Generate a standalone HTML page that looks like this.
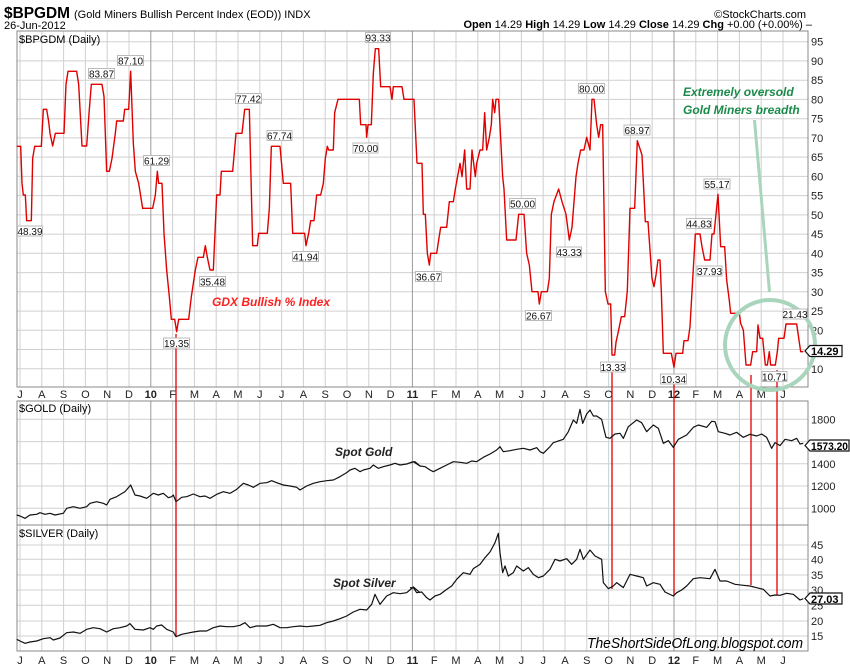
<!DOCTYPE html>
<html><head><meta charset="utf-8"><style>
html,body{margin:0;padding:0;background:#fff;}
svg{display:block;font-family:"Liberation Sans",sans-serif;}
</style></head><body>
<svg width="850" height="668" viewBox="0 0 850 668" xmlns="http://www.w3.org/2000/svg">
<rect width="850" height="668" fill="#fff"/>
<text x="4" y="18" font-size="16" font-weight="bold" textLength="66" lengthAdjust="spacingAndGlyphs">$BPGDM</text>
<text x="74" y="18" font-size="11">(Gold Miners Bullish Percent Index (EOD))  INDX</text>
<text x="4" y="29" font-size="11">26-Jun-2012</text>
<text x="806" y="18" font-size="11" text-anchor="end">©StockCharts.com</text>
<text x="812" y="28" font-size="11" text-anchor="end"><tspan font-weight="bold">Open</tspan> 14.29 <tspan font-weight="bold">High</tspan> 14.29 <tspan font-weight="bold">Low</tspan> 14.29 <tspan font-weight="bold">Close</tspan> 14.29 <tspan font-weight="bold">Chg</tspan> +0.00 (+0.00%) –</text>

<g stroke="#d0d0d0" stroke-width="1" fill="none">
<path d="M20 31V387M41.8 31V387M63.6 31V387M85.4 31V387M107.2 31V387M129 31V387M172.6 31V387M194.4 31V387M216.2 31V387M238 31V387M259.8 31V387M281.6 31V387M303.4 31V387M325.2 31V387M347 31V387M368.8 31V387M390.6 31V387M434.2 31V387M456 31V387M477.8 31V387M499.6 31V387M521.4 31V387M543.2 31V387M565 31V387M586.8 31V387M608.6 31V387M630.4 31V387M652.2 31V387M695.8 31V387M717.6 31V387M739.4 31V387M761.2 31V387M783 31V387"/>
<path d="M20 401V651M41.8 401V651M63.6 401V651M85.4 401V651M107.2 401V651M129 401V651M172.6 401V651M194.4 401V651M216.2 401V651M238 401V651M259.8 401V651M281.6 401V651M303.4 401V651M325.2 401V651M347 401V651M368.8 401V651M390.6 401V651M434.2 401V651M456 401V651M477.8 401V651M499.6 401V651M521.4 401V651M543.2 401V651M565 401V651M586.8 401V651M608.6 401V651M630.4 401V651M652.2 401V651M695.8 401V651M717.6 401V651M739.4 401V651M761.2 401V651M783 401V651"/>
<path d="M17 41.7H808M17 60.9H808M17 80.2H808M17 99.4H808M17 118.7H808M17 137.9H808M17 157.1H808M17 176.4H808M17 195.6H808M17 214.9H808M17 234.1H808M17 253.3H808M17 272.6H808M17 291.8H808M17 311.1H808M17 330.3H808M17 349.5H808M17 368.8H808"/>
<path d="M17 419.3H808M17 441.6H808M17 463.8H808M17 486H808M17 508.3H808"/>
<path d="M17 545H808M17 559.3H808M17 575H808M17 590H808M17 605.3H808M17 621H808M17 636H808"/>
</g>
<g stroke="#9a9a9a" stroke-width="1">
<path d="M150.8 31V387M412.4 31V387M674 31V387M150.8 401V651M412.4 401V651M674 401V651"/>
</g>
<g stroke="#888" fill="none" stroke-width="1">
<rect x="17" y="31" width="791" height="356"/>
<rect x="17" y="401" width="791" height="124"/>
<rect x="17" y="525" width="791" height="126"/>
</g>

<text x="19" y="43" font-size="11">$BPGDM (Daily)</text>
<text x="19" y="412" font-size="11">$GOLD (Daily)</text>
<text x="19" y="537" font-size="11">$SILVER (Daily)</text>

<g font-size="11" text-anchor="middle" fill="#222">
<text x="20" y="398">J</text><text x="41.8" y="398">A</text><text x="63.6" y="398">S</text><text x="85.4" y="398">O</text><text x="107.2" y="398">N</text><text x="129" y="398">D</text><text x="150.8" y="398" font-weight="bold">10</text><text x="172.6" y="398">F</text><text x="194.4" y="398">M</text><text x="216.2" y="398">A</text><text x="238" y="398">M</text><text x="259.8" y="398">J</text><text x="281.6" y="398">J</text><text x="303.4" y="398">A</text><text x="325.2" y="398">S</text><text x="347" y="398">O</text><text x="368.8" y="398">N</text><text x="390.6" y="398">D</text><text x="412.4" y="398" font-weight="bold">11</text><text x="434.2" y="398">F</text><text x="456" y="398">M</text><text x="477.8" y="398">A</text><text x="499.6" y="398">M</text><text x="521.4" y="398">J</text><text x="543.2" y="398">J</text><text x="565" y="398">A</text><text x="586.8" y="398">S</text><text x="608.6" y="398">O</text><text x="630.4" y="398">N</text><text x="652.2" y="398">D</text><text x="674" y="398" font-weight="bold">12</text><text x="695.8" y="398">F</text><text x="717.6" y="398">M</text><text x="739.4" y="398">A</text><text x="761.2" y="398">M</text><text x="783" y="398">J</text>
<text x="20" y="664">J</text><text x="41.8" y="664">A</text><text x="63.6" y="664">S</text><text x="85.4" y="664">O</text><text x="107.2" y="664">N</text><text x="129" y="664">D</text><text x="150.8" y="664" font-weight="bold">10</text><text x="172.6" y="664">F</text><text x="194.4" y="664">M</text><text x="216.2" y="664">A</text><text x="238" y="664">M</text><text x="259.8" y="664">J</text><text x="281.6" y="664">J</text><text x="303.4" y="664">A</text><text x="325.2" y="664">S</text><text x="347" y="664">O</text><text x="368.8" y="664">N</text><text x="390.6" y="664">D</text><text x="412.4" y="664" font-weight="bold">11</text><text x="434.2" y="664">F</text><text x="456" y="664">M</text><text x="477.8" y="664">A</text><text x="499.6" y="664">M</text><text x="521.4" y="664">J</text><text x="543.2" y="664">J</text><text x="565" y="664">A</text><text x="586.8" y="664">S</text><text x="608.6" y="664">O</text><text x="630.4" y="664">N</text><text x="652.2" y="664">D</text><text x="674" y="664" font-weight="bold">12</text><text x="695.8" y="664">F</text><text x="717.6" y="664">M</text><text x="739.4" y="664">A</text><text x="761.2" y="664">M</text><text x="783" y="664">J</text>
</g>

<g font-size="11" fill="#222">
<text x="811" y="45.7">95</text><text x="811" y="64.9">90</text><text x="811" y="84.2">85</text><text x="811" y="103.4">80</text><text x="811" y="122.7">75</text><text x="811" y="141.9">70</text><text x="811" y="161.1">65</text><text x="811" y="180.4">60</text><text x="811" y="199.6">55</text><text x="811" y="218.9">50</text><text x="811" y="238.1">45</text><text x="811" y="257.3">40</text><text x="811" y="276.6">35</text><text x="811" y="295.8">30</text><text x="811" y="315.1">25</text><text x="811" y="334.3">20</text><text x="811" y="372.8">10</text>
<text x="811" y="423.3">1800</text><text x="811" y="467.8">1400</text><text x="811" y="490">1200</text><text x="811" y="512.3">1000</text>
<text x="811" y="549">45</text><text x="811" y="563.3">40</text><text x="811" y="579">35</text><text x="811" y="594">30</text><text x="811" y="609.3">25</text><text x="811" y="625">20</text><text x="811" y="640">15</text>
</g>

<g stroke="#e00000" stroke-width="1.3">
<path d="M176 334V636M612 363V589M674 378V596M751 375V585M777 370V595"/>
</g>

<g transform="translate(0,30) scale(0.33333)" fill="none" stroke="#e00000" stroke-width="1.4" stroke-linejoin="round">
<polyline vector-effect="non-scaling-stroke" points="50,349 62,349 66,460 70,495 76,495 80,572 94,572 98,385 104,349 124,349 130,238 140,238 146,275 150,310 158,348 166,310 192,310 198,163 204,124 230,124 236,163 246,348 260,348 268,238 274,163 306,163 312,200 320,424 328,424 336,385 346,310 350,273 370,273 374,238 386,238 392,124 400,340 406,424 416,460 428,535 458,535 466,495 472,424 476,460 486,460 492,610 500,720 508,800 514,868 524,868 530,905 536,868 566,868 574,800 586,720 594,682 610,682 616,647 622,682 630,720 640,720 650,495 660,495 664,424 698,424 708,310 726,310 734,238 748,238 758,647 772,647 776,610 802,610 808,535 814,349 840,349 850,460 872,460 878,610 914,610 918,647 926,610 932,572 942,572 950,495 962,495 970,460 976,385 982,349 986,360 1000,360 1004,248 1014,208 1078,208 1082,284 1098,284 1100,322 1104,284 1114,284 1120,130 1126,56 1136,56 1142,170 1170,170 1176,208 1180,170 1206,170 1212,208 1242,208 1251,400"/>
</g>
<g transform="translate(410,30) scale(0.33333)" fill="none" stroke="#e00000" stroke-width="1.4" stroke-linejoin="round">
<polyline vector-effect="non-scaling-stroke" points="21,400 36,400 40,553 46,553 52,670 58,705 62,670 80,670 86,630 92,592 110,592 118,515 130,515 136,477 150,400 156,440 164,360 170,477 180,477 186,360 196,440 200,400 210,360 218,360 224,248 230,360 238,322 244,284 248,208 254,248 258,208 266,208 278,440 282,477 290,630 318,630 326,553 342,553 350,670 358,705 366,785 384,785 388,822 394,785 412,785 418,745 424,553 432,515 446,477 456,515 468,553 478,630 486,592 498,440 504,400 512,360 522,360 530,322 540,360 546,208 552,208 560,284 566,322 572,284 578,284 586,785 594,822 602,822 606,975 614,975 618,937 626,900 634,860 644,860 652,782 660,535 674,535 682,332 696,375 706,575 714,575 726,745 732,770 738,735 744,690 750,690 754,785 760,970 784,970 792,1012 798,970 818,970 822,932 834,932 840,890 848,750 856,612 870,612 876,650 884,690 900,690 906,612 912,612 924,493 932,650 944,650 950,750 958,812 962,850 988,850 992,880 1000,900 1008,1005 1022,1005 1028,965 1040,965 1044,885 1050,925 1058,925 1066,1005 1072,1005 1078,965 1082,1005 1096,1005 1102,965 1106,925 1122,925 1128,882 1160,882 1172,965 1180,965"/>
</g>

<g transform="translate(0,400) scale(0.33333)" fill="none" stroke="#111" stroke-linejoin="round">
<polyline vector-effect="non-scaling-stroke" stroke-width="1.2" points="50,345 60,348 75,355 90,345 110,343 120,338 135,343 150,340 165,345 190,340 200,325 220,320 240,325 260,320 270,310 290,305 310,310 320,315 330,298 350,290 375,275 392,255 405,285 420,288 440,295 460,280 475,285 490,280 505,293 515,290 520,285 528,305 545,292 560,290 580,282 600,290 615,288 630,295 650,283 670,275 690,280 710,268 730,250 745,255 760,262 780,250 800,248 815,242 830,248 850,255 870,258 890,262 900,270 920,258 940,250 960,245 980,242 1000,240 1020,230 1040,218 1050,210 1065,205 1080,215 1090,210 1110,205 1120,195 1135,205 1150,200 1170,195 1185,190 1200,195 1220,192 1240,185 1260,198"/>
</g>
<g transform="translate(410,400) scale(0.33333)" fill="none" stroke="#111" stroke-linejoin="round">
<polyline vector-effect="non-scaling-stroke" stroke-width="1.2" points="0,188 15,185 30,198 45,200 60,210 70,215 90,205 110,195 130,185 150,187 170,190 185,183 200,185 220,172 240,162 260,150 270,140 280,155 300,152 320,148 340,145 360,150 380,143 390,155 400,160 420,140 430,128 460,118 475,95 490,60 500,70 510,28 518,70 530,42 540,30 550,48 560,48 575,58 580,80 588,112 600,115 615,102 630,100 640,115 655,80 680,60 695,68 710,95 730,75 745,85 760,130 775,122 790,142 805,118 830,105 850,82 865,75 890,82 905,64 915,65 925,95 945,100 960,105 980,97 1000,112 1020,103 1040,108 1055,102 1070,112 1085,145 1095,128 1110,137 1125,118 1145,122 1160,115 1170,132 1180,130"/>
</g>

<g transform="translate(0,526) scale(0.33333)" fill="none" stroke="#111" stroke-linejoin="round">
<polyline vector-effect="non-scaling-stroke" stroke-width="1.2" points="50,340 60,345 75,352 90,348 110,345 130,338 150,335 160,342 180,336 200,320 220,318 240,322 260,310 280,305 300,308 320,318 340,308 360,305 380,300 390,293 405,310 430,312 450,305 460,310 470,300 485,297 500,310 520,318 528,332 545,325 560,322 580,318 600,315 620,315 640,305 660,300 680,302 700,302 720,298 735,290 750,305 770,300 800,300 820,295 840,305 860,305 880,302 900,300 920,302 940,300 960,298 980,290 1000,285 1020,278 1040,270 1060,258 1080,250 1100,252 1115,235 1125,205 1140,235 1160,210 1180,200 1200,203 1220,200 1240,183 1260,200"/>
</g>
<g transform="translate(410,526) scale(0.33333)" fill="none" stroke="#111" stroke-linejoin="round">
<polyline vector-effect="non-scaling-stroke" stroke-width="1.2" points="0,185 10,185 20,200 35,198 50,215 60,222 75,210 90,205 110,190 125,180 140,160 160,140 180,145 190,128 210,115 225,95 240,78 255,50 265,22 270,80 278,140 285,120 295,150 310,140 320,120 340,135 355,125 370,145 385,155 400,150 420,130 435,100 450,105 470,98 485,115 500,100 510,70 520,100 540,72 555,90 575,100 580,170 595,188 610,180 620,170 640,185 660,145 680,150 700,155 710,180 730,170 750,175 765,198 790,210 800,200 815,192 830,180 850,158 870,155 900,158 915,130 930,165 950,165 975,175 1000,178 1020,180 1040,185 1060,190 1080,210 1095,207 1110,208 1130,202 1150,205 1170,222 1180,218"/>
</g>

<circle cx="770" cy="345" r="45" fill="none" stroke="#a8d5bb" stroke-width="4"/>
<path d="M753 120L756 120L771 292L768 292Z" fill="#a8d5bb"/>

<g font-size="10" text-anchor="middle" fill="#111">
<g fill="#fff" stroke="#bbb" stroke-width="1">
<rect x="17.5" y="226" width="25" height="10"/>
<rect x="88.5" y="68.5" width="26" height="10"/>
<rect x="117.5" y="55.5" width="26" height="10"/>
<rect x="143.5" y="155.5" width="26" height="10"/>
<rect x="163.5" y="338" width="26" height="10"/>
<rect x="199.5" y="276.5" width="26" height="10"/>
<rect x="235.5" y="93.5" width="26" height="10"/>
<rect x="267" y="130.5" width="25" height="10"/>
<rect x="292.5" y="251.5" width="26" height="10"/>
<rect x="353" y="143" width="25" height="10"/>
<rect x="365.5" y="32.5" width="25" height="10"/>
<rect x="415.5" y="271.5" width="26" height="10"/>
<rect x="509.5" y="198.5" width="26" height="10"/>
<rect x="525.5" y="310.5" width="26" height="10"/>
<rect x="556.5" y="247" width="25" height="10"/>
<rect x="578.5" y="83.5" width="26" height="10"/>
<rect x="624" y="125" width="26" height="10"/>
<rect x="600.5" y="362" width="25" height="10"/>
<rect x="660.5" y="374" width="26" height="10"/>
<rect x="686.5" y="218.5" width="25" height="10"/>
<rect x="697" y="266" width="25" height="10"/>
<rect x="704" y="179" width="26" height="10"/>
<rect x="783" y="309" width="24" height="10"/>
<rect x="762" y="371.5" width="25" height="10"/>
</g>
<text x="30" y="235">48.39</text>
<text x="101.5" y="77.5">83.87</text>
<text x="130.5" y="64.5">87.10</text>
<text x="156.5" y="164.5">61.29</text>
<text x="176.5" y="347">19.35</text>
<text x="212.5" y="285.5">35.48</text>
<text x="248.5" y="102.5">77.42</text>
<text x="279.5" y="139.5">67.74</text>
<text x="305.5" y="260.5">41.94</text>
<text x="365.5" y="152">70.00</text>
<text x="378" y="41.5">93.33</text>
<text x="428.5" y="280.5">36.67</text>
<text x="522.5" y="207.5">50.00</text>
<text x="538.5" y="319.5">26.67</text>
<text x="569" y="256">43.33</text>
<text x="591.5" y="92.5">80.00</text>
<text x="637" y="134">68.97</text>
<text x="613" y="371">13.33</text>
<text x="673.5" y="383">10.34</text>
<text x="699" y="227.5">44.83</text>
<text x="709.5" y="275">37.93</text>
<text x="717" y="188">55.17</text>
<text x="795" y="318">21.43</text>
<text x="774.5" y="380.5">10.71</text>
</g>

<g stroke="#111" stroke-width="1.2" fill="#fff">
<path d="M810 345.5H842V356.5H810L805 351Z"/>
<path d="M810 440H849V451H810L805 445.5Z"/>
<path d="M810 593H842V604H810L805 598.5Z"/>
</g>
<g font-size="11" font-weight="bold" fill="#000">
<text x="811" y="355">14.29</text>
<text x="811" y="450" textLength="37" lengthAdjust="spacingAndGlyphs">1573.20</text>
<text x="811" y="603">27.03</text>
</g>

<g font-size="12" font-weight="bold" font-style="italic" fill="#1a8a4a">
<text x="683" y="96">Extremely oversold</text>
<text x="683" y="114">Gold Miners breadth</text>
</g>
<text x="212" y="306" font-size="12" font-weight="bold" font-style="italic" fill="#ff2020">GDX Bullish % Index</text>
<text x="335" y="456" font-size="12" font-weight="bold" font-style="italic" fill="#222">Spot Gold</text>
<text x="333" y="587" font-size="12" font-weight="bold" font-style="italic" fill="#222">Spot Silver</text>
<text x="587" y="648" font-size="15" font-style="italic" fill="#000" textLength="216" lengthAdjust="spacingAndGlyphs">TheShortSideOfLong.blogspot.com</text>
</svg>
</body></html>
